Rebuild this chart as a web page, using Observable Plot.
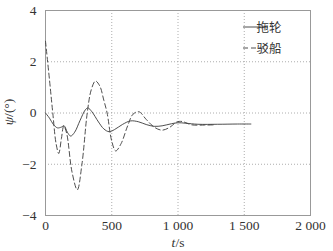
<!DOCTYPE html>
<html><head><meta charset="utf-8">
<script src="https://cdn.jsdelivr.net/npm/d3@7"></script>
<script src="https://cdn.jsdelivr.net/npm/@observablehq/plot@0.6"></script>
<style>
body{margin:0;background:#fff;}
#wrap{position:relative;width:333px;height:251px;font-family:"Liberation Serif",serif;}
</style></head><body>
<div id="wrap"><div id="chart"></div></div>
<script>
const seriesNames = ["拖轮", "驳船"];
const tugT = [0,30,60,90,120,140,165,190,220,260,300,320,350,400,440,480,520,580,640,700,760,820,880,950,1000,1060,1150,1300,1450,1550];
const tugV = [0,-0.2,-0.45,-0.58,-0.55,-0.5,-0.75,-0.9,-0.75,-0.3,0.12,0.2,0.05,-0.35,-0.62,-0.73,-0.65,-0.45,-0.31,-0.34,-0.45,-0.52,-0.5,-0.42,-0.38,-0.4,-0.44,-0.44,-0.43,-0.43];
const bargeT = [0,30,55,80,100,120,138,160,200,240,275,315,345,377,410,440,465,500,530,570,620,660,705,760,820,880,940,990,1030,1060,1100,1200,1280];
const bargeV = [2.8,1.3,0,-1.2,-1.58,-1.0,-0.5,-0.8,-2.3,-3.0,-2.0,0,0.9,1.25,1.05,0.5,0,-1.1,-1.48,-1.2,-0.5,-0.05,0.05,-0.25,-0.55,-0.67,-0.55,-0.35,-0.33,-0.38,-0.46,-0.47,-0.46];
const xTicks = [0,500,1000,1500,2000];
const yTicks = [-4,-2,0,2,4];

const tug = tugT.map((t,i)=>({t, v:tugV[i]}));
const barge = bargeT.map((t,i)=>({t, v:bargeV[i]}));
const loc = d3.formatLocale({decimal:".", thousands:" ", grouping:[3], currency:["",""], minus:"\u2212"});
const fmt = loc.format(",");

const ink = "#3a3a3a";
const chart = Plot.plot({
  width: 333, height: 251,
  marginLeft: 45, marginRight: 23, marginTop: 10, marginBottom: 36,
  style: {fontFamily: "'Liberation Serif', serif", fontSize: "13.5px", color: "#333", background: "#fff"},
  x: {domain: [0,2000], ticks: xTicks, tickFormat: fmt, label: null},
  y: {domain: [-4,4], ticks: yTicks, tickFormat: fmt, label: null},
  marks: [
    Plot.gridX(xTicks.slice(1,-1), {stroke: "#999", strokeOpacity: 1, strokeDasharray: "1,2", strokeWidth: 0.8}),
    Plot.gridY(yTicks.slice(1,-1), {stroke: "#999", strokeOpacity: 1, strokeDasharray: "1,2", strokeWidth: 0.8}),
    Plot.frame({stroke: "#999", strokeWidth: 1}),
    Plot.axisX(xTicks, {tickSize: 0, tickPadding: 5, tickFormat: fmt, fill: "#333"}),
    Plot.axisY(yTicks, {tickSize: 0, tickPadding: 9, tickFormat: fmt, fill: "#333"}),
    Plot.line(barge, {x: "t", y: "v", stroke: ink, strokeWidth: 0.9, strokeDasharray: "5,3", curve: "catmull-rom"}),
    Plot.line(tug, {x: "t", y: "v", stroke: ink, strokeWidth: 0.9, curve: "catmull-rom"})
  ]
});
document.getElementById("chart").appendChild(chart);

const ns = "http://www.w3.org/2000/svg";
const svg = chart;
function addText(x, y, str, opts={}) {
  const t = document.createElementNS(ns, "text");
  t.setAttribute("x", x); t.setAttribute("y", y);
  t.setAttribute("fill", "#333");
  t.setAttribute("font-size", opts.size || 13.5);
  t.setAttribute("font-family", opts.family || "'Liberation Serif', serif");
  if (opts.anchor) t.setAttribute("text-anchor", opts.anchor);
  if (opts.transform) t.setAttribute("transform", opts.transform);
  t.innerHTML = str;
  svg.appendChild(t);
  return t;
}
addText(178, 247, "<tspan font-style='italic'>t</tspan>/s", {anchor: "middle"});
addText(0, 0, "<tspan font-style='italic'>ψ</tspan>/(°)", {anchor: "middle", transform: "translate(13,112) rotate(-90)"});
const lg = [{name: seriesNames[0], dash: null, y: 27}, {name: seriesNames[1], dash: "5,3", y: 48}];
lg.forEach(d => {
  const l = document.createElementNS(ns, "line");
  l.setAttribute("x1", 243); l.setAttribute("x2", 268);
  l.setAttribute("y1", d.y); l.setAttribute("y2", d.y);
  l.setAttribute("stroke", ink); l.setAttribute("stroke-width", 0.9);
  if (d.dash) l.setAttribute("stroke-dasharray", d.dash);
  svg.appendChild(l);
  addText(269, d.y + 4.5, d.name, {size: 12.5, family: "'Noto Sans CJK SC', sans-serif"});
});
</script>
</body></html>
